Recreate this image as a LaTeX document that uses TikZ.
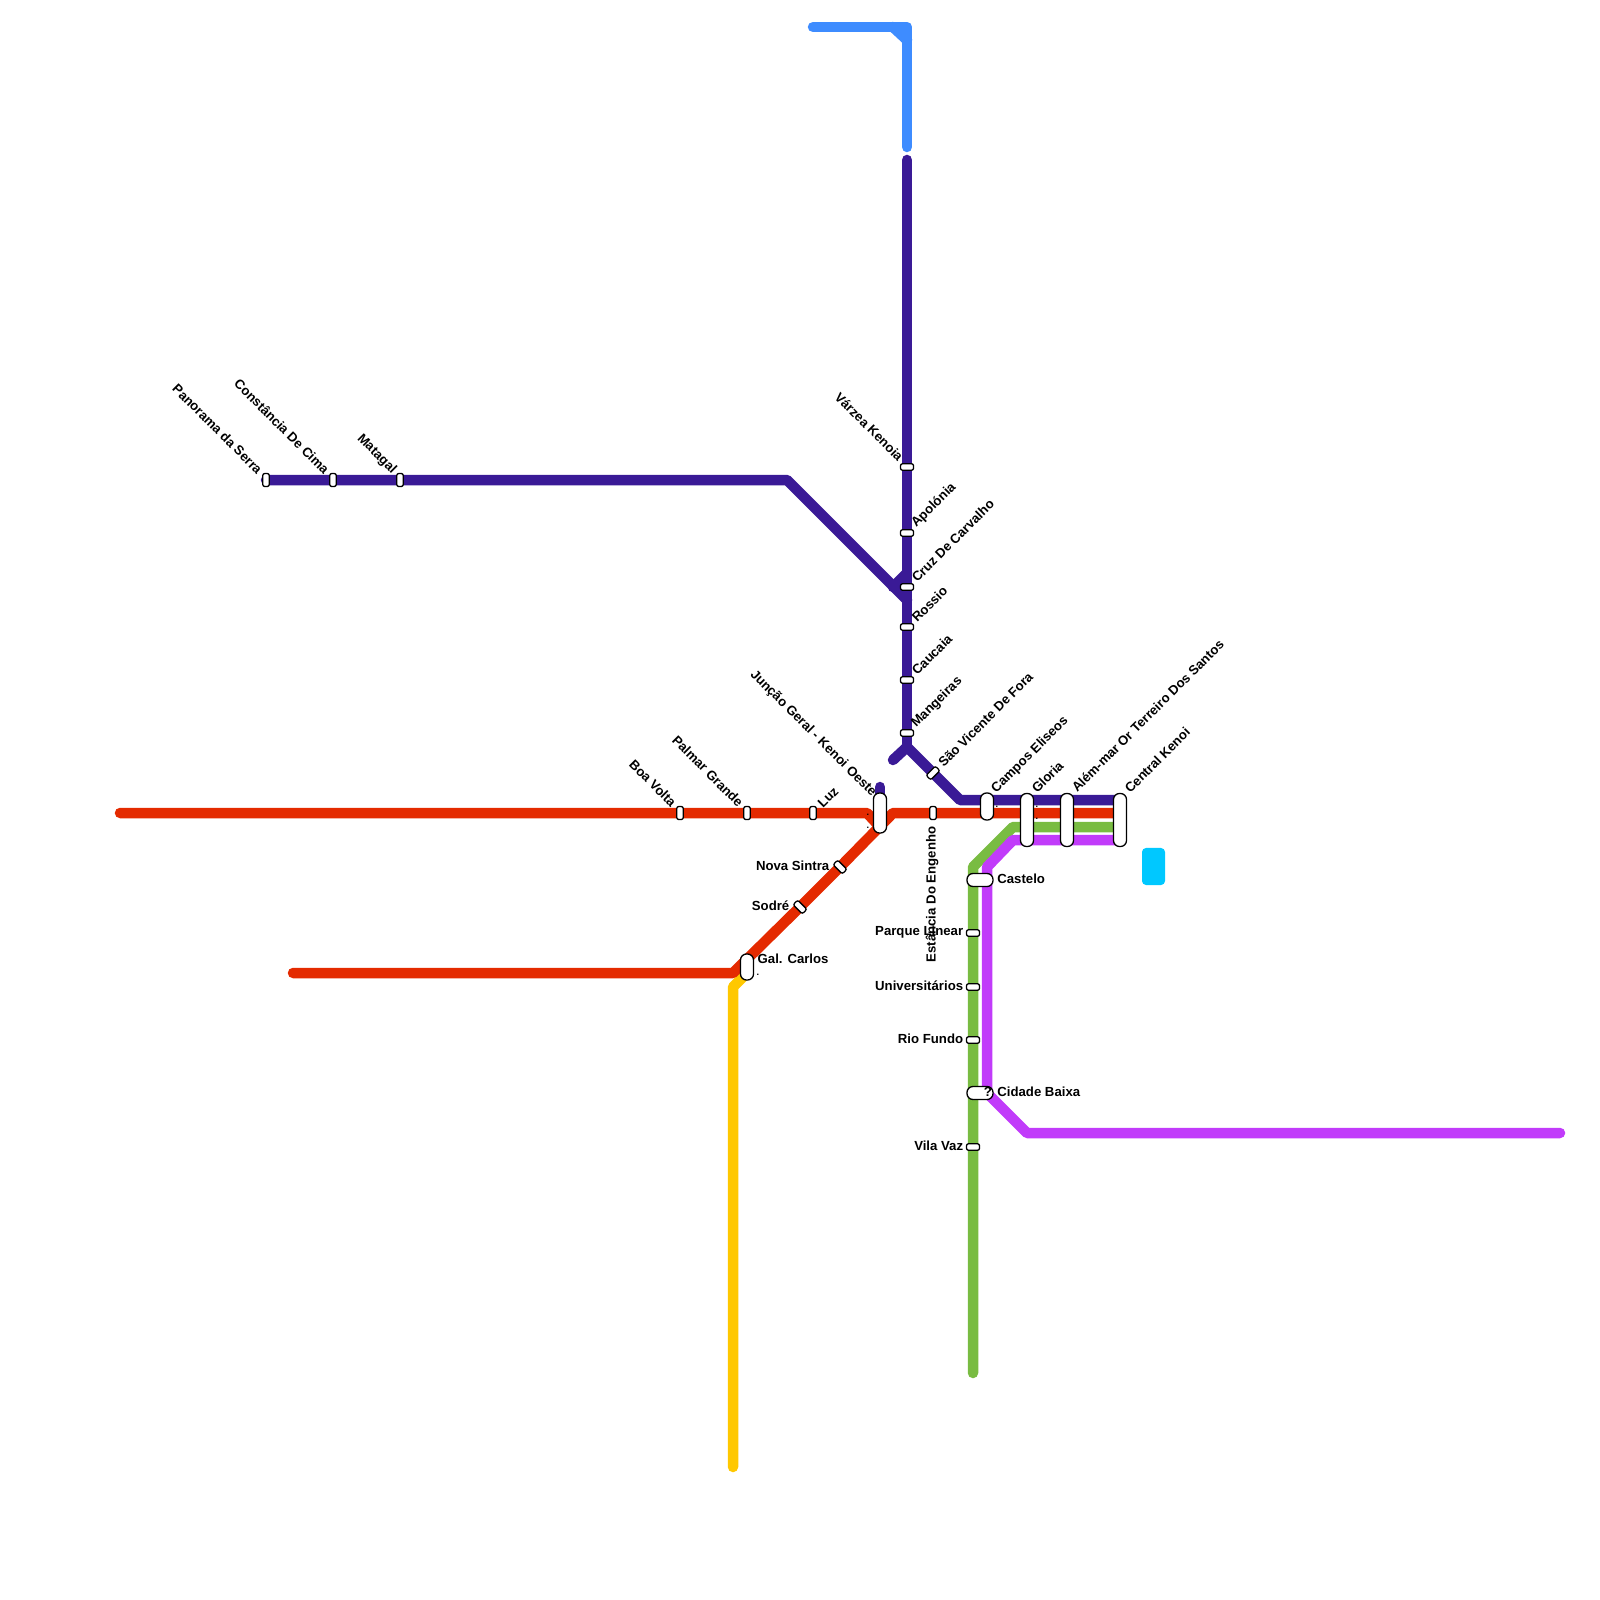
\documentclass[tikz,border=0pt]{standalone}
\usepackage{fontspec}
\setmainfont{Liberation Sans}
\usetikzlibrary{positioning, backgrounds}
\definecolor{linered}{HTML}{E42A00}
\definecolor{lineindigo}{HTML}{3A1A96}
\definecolor{lineblue}{HTML}{3E8CFF}
\definecolor{linegreen}{HTML}{79BC42}
\definecolor{linemagenta}{HTML}{C13BFA}
\definecolor{lineyellow}{HTML}{FFC800}
\definecolor{linecyan}{HTML}{00C8FF}
\tikzset{
  rail/.style={line width=0.105cm, line cap=round, line join=round},
  stn/.style={draw=black, fill=white, line width=0.013cm, rectangle, inner sep=0pt, rounded corners=0.02cm},
  stnv/.style={stn, minimum width=0.065cm, minimum height=0.13cm},
  stnh/.style={stn, minimum width=0.13cm, minimum height=0.065cm},
  pill/.style={stn, minimum width=0.13cm, rounded corners=0.06cm},
  pillh/.style={stn, minimum height=0.13cm, rounded corners=0.06cm},
  txt/.style={inner sep=0pt, font=\fontsize{3.75}{4.4}\selectfont\bfseries},
  side/.style={txt, yshift=0.012cm},
  lblne/.style={txt, rotate=45, anchor=west},
  lblnw/.style={txt, rotate=-45, anchor=east},
  lblup/.style={txt, rotate=90, anchor=east},
  speck/.style={txt, font=\fontsize{2.6}{3}\selectfont\bfseries}
}
\begin{document}
\begin{tikzpicture}[x=0.01cm, y=-0.01cm]
        \useasboundingbox (0,0) rectangle (1600,1600);

        % ends and bends of the lines
        \coordinate (rw) at (120,813);
        \coordinate (rj) at (867,813);
        \coordinate (rk) at (880,827);
        \coordinate (rs) at (293,973);
        \coordinate (rb) at (733,973);
        \coordinate (rc) at (893,813);
        \coordinate (re) at (1120,813);
        \coordinate (ia) at (787,480);
        \coordinate (ib) at (907,600);
        \coordinate (ic) at (907,160);
        \coordinate (id) at (907,747);
        \coordinate (ie) at (893,760);
        \coordinate (if) at (960,800);
        \coordinate (ig) at (1120,800);
        \coordinate (ih) at (880,787);
        \coordinate (ii) at (880,800);
        \coordinate (ij) at (893,587);
        \coordinate (ik) at (907,573);
        \coordinate (ba) at (813,27);
        \coordinate (bb) at (907,27);
        \coordinate (bc) at (907,147);
        \coordinate (bd) at (893,27);
        \coordinate (be) at (907,40);
        \coordinate (ga) at (973,1373);
        \coordinate (gb) at (973,867);
        \coordinate (gc) at (1013,827);
        \coordinate (gd) at (1120,827);
        \coordinate (ma) at (1560,1133);
        \coordinate (mb) at (1027,1133);
        \coordinate (mc) at (987,1093);
        \coordinate (md) at (987,867);
        \coordinate (me) at (1013,840);
        \coordinate (mf) at (1120,840);
        \coordinate (ya) at (733,1467);
        \coordinate (yb) at (733,987);
        \coordinate (yc) at (747,973);

        % estacoes
        \node (panorama) [stnv] at (266,480) {};
        \node (constancia) [stnv] at (333,480) {};
        \node (matagal) [stnv] at (400,480) {};
        \node (boavolta) [stnv] at (680,813) {};
        \node (palmar) [stnv] at (747,813) {};
        \node (luz) [stnv] at (813,813) {};
        \node (estancia) [stnv] at (933,813) {};
        \node (juncao) [pill, minimum height=0.4cm] at (880,813) {};
        \node (gal) [pill, minimum height=0.26cm] at (747,967) {};
        \node (nova) [stnh, rotate=-45] at (840,867) {};
        \node (sodre) [stnh, rotate=-45] at (800,907) {};
        \node (vicente) [stnh, rotate=45] at (933,773) {};
        \node (varzea) [stnh] at (907,467) {};
        \node (apolonia) [stnh] at (907,533) {};
        \node (cruz) [stnh] at (907,587) {};
        \node (rossio) [stnh] at (907,627) {};
        \node (caucaia) [stnh] at (907,680) {};
        \node (mangeiras) [stnh] at (907,733) {};
        \node (campos) [pill, minimum height=0.27cm] at (987,806.5) {};
        \node (gloria) [pill, minimum height=0.53cm] at (1027,820) {};
        \node (alem) [pill, minimum height=0.53cm] at (1067,820) {};
        \node (central) [pill, minimum height=0.53cm] at (1120,820) {};
        \node (castelo) [pillh, minimum width=0.26cm] at (980,880) {};
        \node (parque) [stnh] at (973,933) {};
        \node (univ) [stnh] at (973,987) {};
        \node (rio) [stnh] at (973,1040) {};
        \node (cidade) [pillh, minimum width=0.26cm] at (980,1093) {};
        \node (vila) [stnh] at (973,1147) {};

        % linhas
        \begin{scope}[on background layer]
            \draw[rail, lineblue] (ba) -- (bb) -- (bc);
            \draw[rail, lineblue] (bd) -- (be);
            \draw[rail, lineyellow] (ya) -- (yb) -- (yc);
            \draw[rail, linegreen] (ga) -- (gb) -- (gc) -- (gd);
            \draw[rail, linemagenta] (ma) -- (mb) -- (mc) -- (md) -- (me) -- (mf);
            \draw[rail, lineindigo] (panorama.center) -- (constancia.center) -- (matagal.center) -- (ia) -- (ib);
            \draw[rail, lineindigo] (ic) -- (varzea.center) -- (apolonia.center) -- (cruz.center) -- (rossio.center) -- (caucaia.center) -- (mangeiras.center) -- (id);
            \draw[rail, lineindigo] (ie) -- (id) -- (vicente.center) -- (if) -- (ig);
            \draw[rail, lineindigo] (ij) -- (ik);
            \draw[rail, lineindigo] (ih) -- (ii);
            \draw[rail, linered] (rw) -- (boavolta.center) -- (palmar.center) -- (luz.center) -- (rj) -- (rk);
            \draw[rail, linered] (rs) -- (rb) -- (sodre.center) -- (nova.center) -- (rc) -- (estancia.center) -- (re);
        \end{scope}

        % bloco azul
        \node (bloco) [fill=linecyan, rectangle, rounded corners=0.04cm, inner sep=0pt, minimum width=0.23cm, minimum height=0.37cm] at (1153.5,866.5) {};

        % nomes
        \node[lblnw] at ([shift={(-5.5,-8)}]panorama) {Panorama da Serra};
        \node[lblnw] at ([shift={(-5.5,-8)}]constancia) {Constância De Cima};
        \node[lblnw] at ([shift={(-5.5,-8)}]matagal) {Matagal};
        \node[lblnw] at ([shift={(-5.5,-8)}]boavolta) {Boa Volta};
        \node[lblnw] at ([shift={(-5.5,-8)}]palmar) {Palmar Grande};
        \node[lblnw] at ([shift={(-5.5,-18)}]juncao) {Junção Geral - Kenoi Oeste};
        \node[lblnw] at ([shift={(-5.5,-8)}]varzea) {Várzea Kenoia};
        \node[lblne] at ([shift={(6.5,-7)}]luz) {Luz};
        \node[lblne] at ([shift={(6.5,-7)}]apolonia) {Apolónia};
        \node[lblne] at ([shift={(6.5,-7)}]cruz) {Cruz De Carvalho};
        \node[lblne] at ([shift={(6.5,-7)}]rossio) {Rossio};
        \node[lblne] at ([shift={(6.5,-7)}]caucaia) {Caucaia};
        \node[lblne] at ([shift={(6.5,-7)}]mangeiras) {Mangeiras};
        \node[lblne] at ([shift={(7,-8)}]vicente) {São Vicente De Fora};
        \node[lblne] at ([shift={(6.5,-15)}]campos) {Campos Eliseos};
        \node[lblne] at ([shift={(6.5,-29)}]gloria) {Gloria};
        \node[lblne] at ([shift={(6.5,-30)}]alem) {Além-mar Or Terreiro Dos Santos};
        \node[lblne] at ([shift={(6.5,-29)}]central) {Central Kenoi};
        \node[lblup] at ([shift={(-1,13)}]estancia) {Estância Do Engenho};
        \node[side, left=0.1cm of nova.center] {Nova Sintra};
        \node[side, left=0.1cm of sodre.center] {Sodré};
        \node[side, left=0.02cm of parque] {Parque Linear};
        \node[side, left=0.02cm of univ] {Universitários};
        \node[side, left=0.02cm of rio] {Rio Fundo};
        \node[side, left=0.02cm of vila] {Vila Vaz};
        \node[side, right=0.03cm of castelo] {Castelo};
        \node[side, right=0.03cm of cidade] {Cidade Baixa};
        \node[txt, anchor=west] at ([shift={(10,-8)}]gal) {Gal. Carlos};

        % marcas soltas
        \node[speck] at (758,975) {.};
        \node[speck] at (868,815) {.};
        \node[speck] at (868,828) {.};
        \node[speck] at (997,807) {.};
        \node[speck] at (1037,807) {.};
        \node[speck] at (1037,819) {.};
        \node[txt] at (988,1092) {?};
\end{tikzpicture}
\end{document}
